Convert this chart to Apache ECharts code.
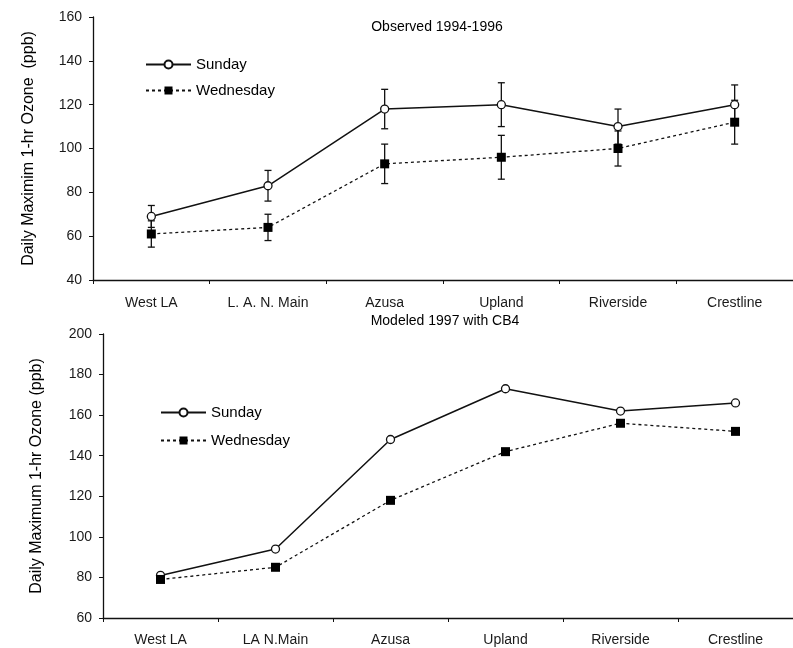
<!DOCTYPE html>
<html>
<head>
<meta charset="utf-8">
<script src="https://cdn.jsdelivr.net/npm/echarts@6/dist/echarts.min.js"></script>
<style>
  html, body { margin: 0; padding: 0; background: #fff; }
  #chart { width: 793px; height: 648px; }
</style>
</head>
<body>
<div id="chart"></div>
<script>
// Monitoring sites, west to east
const sitesObserved = ['West LA', 'L. A. N. Main', 'Azusa', 'Upland', 'Riverside', 'Crestline'];
const sitesModeled = ['West LA', 'LA N.Main', 'Azusa', 'Upland', 'Riverside', 'Crestline'];

// Observed 1994-1996 mean daily maximum 1-hr ozone (ppb) and half-width of error bars
const obsSunday = [69, 83, 118, 120, 110, 120];
const obsSundayErr = [5, 7, 9, 10, 8, 9];
const obsWednesday = [61, 64, 93, 96, 100, 112];
const obsWednesdayErr = [6, 6, 9, 10, 8, 10];

// Modeled 1997 with CB4 (ppb)
const modSunday = [81, 94, 148, 173, 162, 166];
const modWednesday = [79, 85, 118, 142, 156, 152];

const seriesNames = ['Sunday', 'Wednesday'];

const ink = '#111';
const font = 'Arial, "Liberation Sans", sans-serif';

function errorData(values, errs) {
  return values.map((v, i) => [i, v - errs[i], v + errs[i]]);
}

function errorBarSeries(id, values, errs) {
  return {
    id: id,
    type: 'custom',
    xAxisIndex: 0,
    yAxisIndex: 0,
    z: 1,
    silent: true,
    data: errorData(values, errs),
    renderItem: function (params, api) {
      const x = api.value(0);
      const lo = api.coord([x, api.value(1)]);
      const hi = api.coord([x, api.value(2)]);
      const cap = 3.5;
      const style = { stroke: ink, lineWidth: 1.3, fill: null };
      return {
        type: 'group',
        children: [
          { type: 'line', shape: { x1: hi[0], y1: hi[1], x2: lo[0], y2: lo[1] }, style: style },
          { type: 'line', shape: { x1: hi[0] - cap, y1: hi[1], x2: hi[0] + cap, y2: hi[1] }, style: style },
          { type: 'line', shape: { x1: lo[0] - cap, y1: lo[1], x2: lo[0] + cap, y2: lo[1] }, style: style }
        ]
      };
    }
  };
}

function xAxis(gridIndex, cats, margin) {
  return {
    type: 'category',
    gridIndex: gridIndex,
    data: cats,
    boundaryGap: true,
    axisLine: { lineStyle: { color: ink, width: 1.3 } },
    axisTick: { show: true, length: 4, lineStyle: { color: ink } },
    axisLabel: { color: '#1a1a1a', fontSize: 14, fontFamily: font, margin: margin },
    splitLine: { show: false }
  };
}

function yAxis(gridIndex, min, max, name, nameGap) {
  return {
    type: 'value',
    gridIndex: gridIndex,
    min: min,
    max: max,
    interval: 20,
    name: name,
    nameLocation: 'middle',
    nameGap: nameGap,
    nameTextStyle: { color: '#000', fontSize: 16, fontFamily: font },
    axisLine: { show: true, lineStyle: { color: ink, width: 1.3 } },
    axisTick: { show: true, length: 4, lineStyle: { color: ink } },
    axisLabel: { color: '#1a1a1a', fontSize: 14, fontFamily: font, margin: 11 },
    splitLine: { show: false }
  };
}

function sundaySeries(xi, yi, data) {
  return {
    name: seriesNames[0],
    type: 'line',
    xAxisIndex: xi,
    yAxisIndex: yi,
    data: data,
    z: 3,
    symbol: 'circle',
    symbolSize: 8,
    lineStyle: { color: ink, width: 1.5, type: 'solid' },
    itemStyle: { color: '#fff', borderColor: ink, borderWidth: 1.3 }
  };
}

function wednesdaySeries(xi, yi, data) {
  return {
    name: seriesNames[1],
    type: 'line',
    xAxisIndex: xi,
    yAxisIndex: yi,
    data: data,
    z: 3,
    symbol: 'rect',
    symbolSize: 9,
    lineStyle: { color: ink, width: 1.3, type: [3, 3] },
    itemStyle: { color: '#000', borderColor: '#000', borderWidth: 0 }
  };
}

function legend(left, top, gap) {
  return {
    data: seriesNames,
    orient: 'vertical',
    left: left,
    top: top,
    itemWidth: 45,
    itemHeight: 10,
    itemGap: gap,
    selectedMode: false,
    textStyle: { color: '#000', fontSize: 15, fontFamily: font }
  };
}

const chart = echarts.init(document.getElementById('chart'), null, { renderer: 'canvas' });

chart.setOption({
  backgroundColor: '#fff',
  animation: false,
  title: [
    { text: 'Observed 1994-1996', left: 432, top: 15, textAlign: 'center',
      textStyle: { fontSize: 14, fontWeight: 'normal', color: '#000', fontFamily: font } },
    { text: 'Modeled 1997 with CB4', left: 440, top: 309, textAlign: 'center',
      textStyle: { fontSize: 14, fontWeight: 'normal', color: '#000', fontFamily: font } }
  ],
  legend: [legend(140, 52, 11), legend(155, 400, 13)],
  grid: [
    { left: 93, top: 17, width: 703, height: 263 },
    { left: 103, top: 334, width: 693, height: 284 }
  ],
  xAxis: [xAxis(0, sitesObserved, 16), xAxis(1, sitesModeled, 15)],
  yAxis: [
    yAxis(0, 40, 160, 'Daily Maximim 1-hr Ozone  (ppb)', 56),
    yAxis(1, 60, 200, 'Daily Maximum 1-hr Ozone (ppb)', 58)
  ],
  series: [
    errorBarSeries('errSun', obsSunday, obsSundayErr),
    errorBarSeries('errWed', obsWednesday, obsWednesdayErr),
    sundaySeries(0, 0, obsSunday),
    wednesdaySeries(0, 0, obsWednesday),
    sundaySeries(1, 1, modSunday),
    wednesdaySeries(1, 1, modWednesday)
  ]
});
</script>
</body>
</html>
